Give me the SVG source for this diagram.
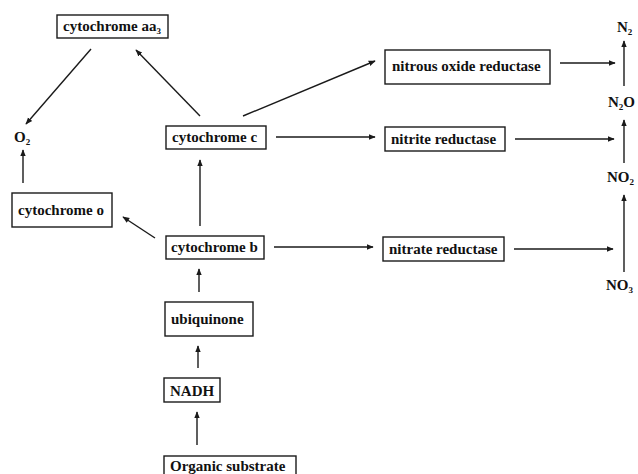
<svg xmlns="http://www.w3.org/2000/svg" width="638" height="474" viewBox="0 0 638 474">
<style>
  .box { fill: #fff; stroke: #1a1a1a; stroke-width: 1.4; }
  .t { font-family: "Liberation Serif", "Times New Roman", serif; font-weight: bold; font-size: 15px; fill: #111; }
  .sub { font-size: 9px; }
  .c line { stroke: #1a1a1a; stroke-width: 1.4; marker-end: url(#ah); }
</style>
<defs>
  <marker id="ah" viewBox="0 0 10 10" refX="9" refY="5" markerWidth="7" markerHeight="7" markerUnits="userSpaceOnUse" orient="auto">
    <path d="M0,1 L10,5 L0,9 z" fill="#1a1a1a"/>
  </marker>
</defs>
<rect width="638" height="474" fill="#fff"/>
<g class="c" id="connectors">
  <line x1="91" y1="49" x2="26" y2="124"/>
  <line x1="200" y1="116" x2="136" y2="50"/>
  <line x1="243" y1="116" x2="375" y2="61"/>
  <line x1="276" y1="137" x2="375" y2="137"/>
  <line x1="274" y1="247" x2="373" y2="247"/>
  <line x1="560" y1="63" x2="615" y2="63"/>
  <line x1="515" y1="139" x2="614" y2="139"/>
  <line x1="514" y1="249" x2="613" y2="249"/>
  <line x1="624" y1="86" x2="624" y2="41"/>
  <line x1="624" y1="163" x2="624" y2="120"/>
  <line x1="624" y1="272" x2="624" y2="195"/>
  <line x1="23" y1="183" x2="23" y2="150"/>
  <line x1="155" y1="238" x2="123" y2="217"/>
  <line x1="200" y1="226" x2="200" y2="160"/>
  <line x1="199" y1="292" x2="199" y2="269"/>
  <line x1="198" y1="368" x2="198" y2="346"/>
  <line x1="197" y1="445" x2="197" y2="412"/>
</g>
<g id="cyt-aa3"><rect class="box" x="57" y="15" width="111" height="23"/><text class="t" x="63" y="31">cytochrome aa<tspan class="sub" dy="3">3</tspan></text></g>
<g id="o2"><text class="t" x="14" y="142">O<tspan class="sub" dy="3">2</tspan></text></g>
<g id="cyt-o"><rect class="box" x="12" y="193" width="100" height="34"/><text class="t" x="18" y="215">cytochrome o</text></g>
<g id="cyt-c"><rect class="box" x="166" y="126" width="100" height="23"/><text class="t" x="172" y="142">cytochrome c</text></g>
<g id="cyt-b"><rect class="box" x="166" y="236" width="98" height="23"/><text class="t" x="171" y="252">cytochrome b</text></g>
<g id="ubiquinone"><rect class="box" x="165" y="302" width="88" height="34"/><text class="t" x="171" y="324">ubiquinone</text></g>
<g id="nadh"><rect class="box" x="164" y="378" width="56" height="24"/><text class="t" x="170" y="396">NADH</text></g>
<g id="substrate"><rect class="box" x="164" y="456" width="132" height="22"/><text class="t" x="170" y="471">Organic substrate</text></g>
<g id="n2o-red"><rect class="box" x="385" y="50" width="165" height="34"/><text class="t" x="392" y="71">nitrous oxide reductase</text></g>
<g id="no2-red"><rect class="box" x="385" y="127" width="120" height="24"/><text class="t" x="391" y="144">nitrite reductase</text></g>
<g id="no3-red"><rect class="box" x="383" y="237" width="121" height="24"/><text class="t" x="389" y="254">nitrate reductase</text></g>
<g id="n2"><text class="t" x="617" y="32">N<tspan class="sub" dy="3">2</tspan></text></g>
<g id="n2o"><text class="t" x="608" y="107">N<tspan class="sub" dy="3">2</tspan><tspan dy="-3">O</tspan></text></g>
<g id="no2"><text class="t" x="607" y="182">NO<tspan class="sub" dy="3">2</tspan></text></g>
<g id="no3"><text class="t" x="606" y="290">NO<tspan class="sub" dy="3">3</tspan></text></g>
</svg>
